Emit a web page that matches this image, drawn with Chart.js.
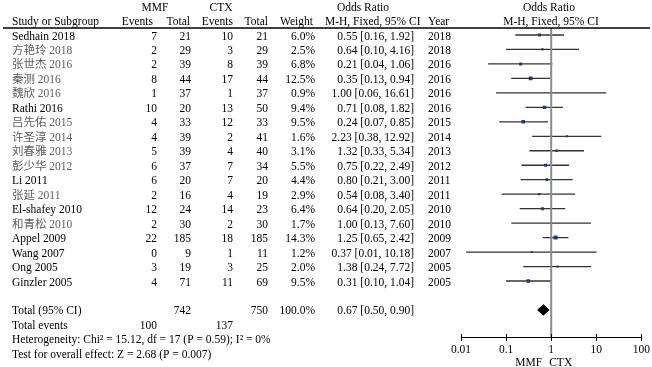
<!DOCTYPE html>
<html>
<head>
<meta charset="utf-8">
<script src="https://cdn.jsdelivr.net/npm/chart.js@4.4.1/dist/chart.umd.min.js"></script>
<style>
html, body { margin: 0; padding: 0; background: #fff; }
#wrap { width: 652px; height: 367px; }
</style>
</head>
<body>
<div id="wrap"><canvas id="forest"></canvas></div>
<script>
// --- Datos ---
const estudios = ['Sedhain 2018', '方艳玲 2018', '张世杰 2016', '秦测 2016', '魏欣 2016', 'Rathi 2016',
    '吕先佑 2015', '许圣淳 2014', '刘春雅 2013', '彭少华 2012', 'Li 2011', '张延 2011',
    'El-shafey 2010', '和青松 2010', 'Appel 2009', 'Wang 2007', 'Ong 2005', 'Ginzler 2005'];
const eventosMMF = [7, 2, 2, 8, 1, 10, 4, 4, 5, 6, 6, 2, 12, 2, 22, 0, 3, 4];
const totalMMF = [21, 29, 39, 44, 37, 20, 33, 39, 39, 37, 20, 16, 24, 30, 185, 9, 19, 71];
const eventosCTX = [10, 3, 8, 17, 1, 13, 12, 2, 4, 7, 7, 4, 14, 2, 18, 1, 3, 11];
const totalCTX = [21, 29, 39, 44, 37, 50, 33, 41, 40, 34, 20, 19, 23, 30, 185, 11, 25, 69];
const pesos = [6.0, 2.5, 6.8, 12.5, 0.9, 9.4, 9.5, 1.6, 3.1, 5.5, 4.4, 2.9, 6.4, 1.7, 14.3, 1.2, 2.0, 9.5];
const oddsRatio = [0.55, 0.64, 0.21, 0.35, 1.00, 0.71, 0.24, 2.23, 1.32, 0.75, 0.80, 0.54, 0.64, 1.00, 1.25, 0.37, 1.38, 0.31];
// extremos del IC tal como se dibujan en el gráfico
const icInferior = [0.16, 0.10, 0.04, 0.13, 0.06, 0.27, 0.07, 0.38, 0.33, 0.22, 0.21, 0.08, 0.20, 0.13, 0.65, 0.013, 0.24, 0.10];
const icSuperior = [1.92, 4.16, 1.06, 0.94, 16.61, 1.82, 0.85, 12.92, 5.34, 2.49, 3.00, 3.40, 2.05, 7.60, 2.42, 10.18, 7.72, 1.04];
// texto de la columna (como aparece impreso)
const icTexto = ['0.55 [0.16, 1.92]', '0.64 [0.10, 4.16]', '0.21 [0.04, 1.06]', '0.35 [0.13, 0.94]',
    '1.00 [0.06, 16.61]', '0.71 [0.08, 1.82]', '0.24 [0.07, 0.85]', '2.23 [0.38, 12.92]',
    '1.32 [0.33, 5.34]', '0.75 [0.22, 2.49]', '0.80 [0.21, 3.00]', '0.54 [0.08, 3.40]',
    '0.64 [0.20, 2.05]', '1.00 [0.13, 7.60]', '1.25 [0.65, 2.42]', '0.37 [0.01, 10.18]',
    '1.38 [0.24, 7.72]', '0.31 [0.10, 1.04]'];
const anios = [2018, 2018, 2016, 2016, 2016, 2016, 2015, 2014, 2013, 2012, 2011, 2011, 2010, 2010, 2009, 2007, 2005, 2005];

const totalGlobal = { mmf: 742, ctx: 750, peso: '100.0%', or: 0.67, inf: 0.50, sup: 0.90, texto: '0.67 [0.50, 0.90]' };
const eventosTotales = { mmf: 100, ctx: 137 };
const heterogeneidad = 'Heterogeneity: Chi² = 15.12, df = 17 (P = 0.59); I² = 0%';
const efectoGlobal = 'Test for overall effect: Z = 2.68 (P = 0.007)';
const ticksEje = [0.01, 0.1, 1, 10, 100];

// --- Estilo ---
const FILA_TOTAL = 19;
const FUENTE = '11.5px "Liberation Serif", "Noto Sans CJK SC", serif';
const AZUL = '#1d3d9b';
const esChino = t => /[\u4e00-\u9fff]/.test(t);

// --- Datasets ---
const datasets = [];

// línea vertical en OR = 1
datasets.push({
    data: [{ x: 1, y: -0.484 }, { x: 1, y: 20.87 }],
    showLine: true, borderColor: '#8c8c8c', borderWidth: 2, pointRadius: 0
});

estudios.forEach((_, i) => {
    datasets.push({
        data: [{ x: icInferior[i], y: i }, { x: icSuperior[i], y: i }],
        showLine: true, borderColor: '#333', borderWidth: 1.3, pointRadius: 0
    });
});

datasets.push({
    data: oddsRatio.map((v, i) => ({ x: v, y: i })),
    pointStyle: 'rect',
    pointRadius: pesos.map(w => (1 + 0.8 * Math.sqrt(w)) / Math.SQRT2),
    backgroundColor: AZUL, borderColor: AZUL, borderWidth: 0
});

// diamante
datasets.push({
    data: [
        { x: totalGlobal.inf, y: FILA_TOTAL },
        { x: totalGlobal.or, y: FILA_TOTAL - 0.36 },
        { x: totalGlobal.sup, y: FILA_TOTAL },
        { x: totalGlobal.or, y: FILA_TOTAL + 0.36 },
        { x: totalGlobal.inf, y: FILA_TOTAL }
    ],
    showLine: true, fill: 'shape', backgroundColor: '#000', borderColor: '#000',
    borderWidth: 1, pointRadius: 0, tension: 0
});

// --- Textos ---
const textos = {
    id: 'textos',
    afterDraw(chart) {
        const ctx = chart.ctx;
        const x = chart.scales.x, y = chart.scales.y;
        const fila = i => y.getPixelForValue(i) + 1.5;

        ctx.save();
        ctx.font = FUENTE;
        ctx.fillStyle = '#000';
        ctx.textBaseline = 'middle';

        const escribir = (t, px, py, align) => { ctx.textAlign = align; ctx.fillText(t, px, py); };

        // cabecera
        const h1 = y.top - 20, h2 = y.top - 6;
        escribir('MMF', 155, h1, 'center');
        escribir('CTX', 221, h1, 'center');
        escribir('Odds Ratio', 363, h1, 'center');
        escribir('Odds Ratio', 549, h1, 'center');
        escribir('Study or Subgroup', 12, h2, 'left');
        escribir('Events', 153, h2, 'right');
        escribir('Total', 190, h2, 'right');
        escribir('Events', 233, h2, 'right');
        escribir('Total', 268, h2, 'right');
        escribir('Weight', 313, h2, 'right');
        escribir('M-H, Fixed, 95% CI', 325, h2, 'left');
        escribir('Year', 428, h2, 'left');
        escribir('M-H, Fixed, 95% CI', 551, h2, 'center');

        ctx.strokeStyle = '#000';
        ctx.lineWidth = 1.3;
        ctx.beginPath();
        ctx.moveTo(3, y.top);
        ctx.lineTo(650, y.top);
        ctx.stroke();

        // filas de estudios
        estudios.forEach((nombre, i) => {
            const py = fila(i);
            ctx.fillStyle = esChino(nombre) ? '#5c5c5c' : '#000';
            escribir(nombre, 12, py, 'left');
            ctx.fillStyle = '#000';
            escribir(String(eventosMMF[i]), 157, py, 'right');
            escribir(String(totalMMF[i]), 191, py, 'right');
            escribir(String(eventosCTX[i]), 233, py, 'right');
            escribir(String(totalCTX[i]), 268, py, 'right');
            escribir(pesos[i].toFixed(1) + '%', 315, py, 'right');
            escribir(icTexto[i], 414, py, 'right');
            escribir(String(anios[i]), 428, py, 'left');
        });

        // totales
        let py = fila(FILA_TOTAL);
        escribir('Total (95% CI)', 12, py, 'left');
        escribir(String(totalGlobal.mmf), 191, py, 'right');
        escribir(String(totalGlobal.ctx), 268, py, 'right');
        escribir(totalGlobal.peso, 315, py, 'right');
        escribir(totalGlobal.texto, 414, py, 'right');

        py = fila(FILA_TOTAL + 1);
        escribir('Total events', 12, py, 'left');
        escribir(String(eventosTotales.mmf), 157, py, 'right');
        escribir(String(eventosTotales.ctx), 233, py, 'right');

        escribir(heterogeneidad, 12, fila(FILA_TOTAL + 2), 'left');
        escribir(efectoGlobal, 12, fila(FILA_TOTAL + 3), 'left');

        // marcas del eje hacia arriba
        ctx.lineWidth = 1;
        ticksEje.forEach(t => {
            const px = Math.round(x.getPixelForValue(t)) + 0.5;
            ctx.beginPath();
            ctx.moveTo(px, y.bottom - 3);
            ctx.lineTo(px, y.bottom);
            ctx.stroke();
        });

        // etiqueta del eje
        const x1 = x.getPixelForValue(1);
        escribir('MMF', x1 - 9, 362.5, 'right');
        escribir('CTX', x1 - 2, 362.5, 'left');

        ctx.restore();
    }
};

// --- Gráfico ---
new Chart(document.getElementById('forest'), {
    type: 'scatter',
    data: { datasets },
    plugins: [textos],
    options: {
        responsive: true,
        maintainAspectRatio: false,
        animation: false,
        events: [],
        layout: { padding: { left: 461, right: 10, top: 28, bottom: 0 } },
        plugins: { legend: { display: false }, tooltip: { enabled: false } },
        scales: {
            x: {
                type: 'logarithmic',
                min: 0.01, max: 100,
                afterBuildTicks: s => { s.ticks = ticksEje.map(v => ({ value: v })); },
                afterFit: s => { s.height = 30; },
                ticks: {
                    color: '#000',
                    font: { family: '"Liberation Serif", serif', size: 11.5 },
                    padding: 2,
                    maxRotation: 0,
                    callback: v => String(v)
                },
                grid: { drawOnChartArea: false, drawTicks: true, tickLength: 4, color: '#000' },
                border: { display: true, color: '#000', width: 1 }
            },
            y: {
                type: 'linear',
                reverse: true,
                min: -0.484, max: 20.87,
                display: false
            }
        }
    }
});
</script>
</body>
</html>
